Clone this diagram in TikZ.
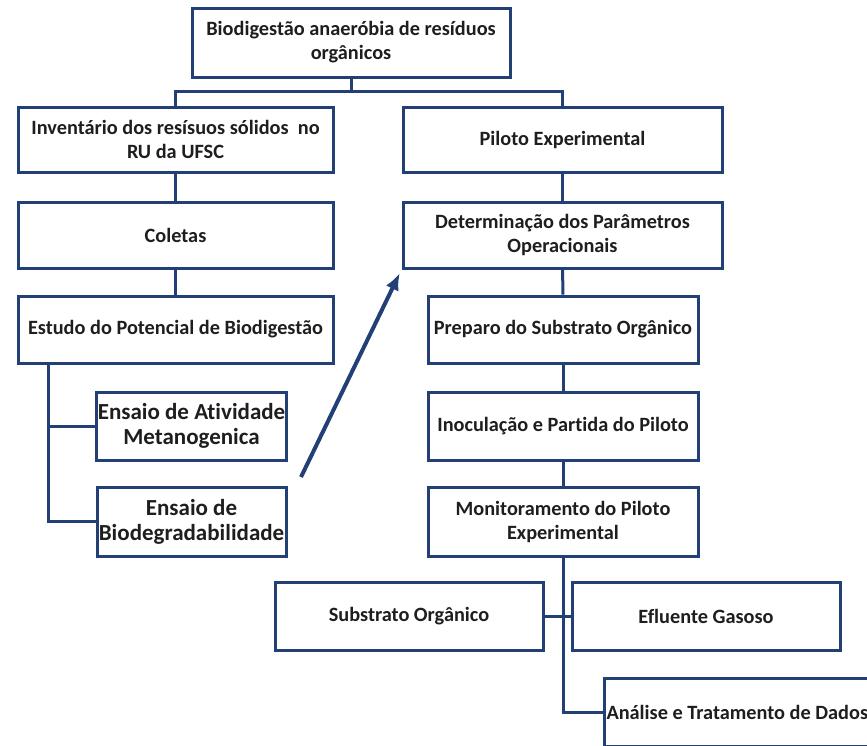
\documentclass[tikz,border=0pt]{standalone}
\usepackage{fontspec}
\setmainfont[Ligatures=NoCommon]{Carlito}
\usetikzlibrary{arrows,arrows.meta,calc}
\definecolor{LineClr}{RGB}{34,64,118}
\definecolor{TextClr}{RGB}{30,30,30}

\begin{document}
\begin{tikzpicture}[x=1pt,y=-1pt,
  box/.style={draw=LineClr,line width=3pt,fill=white,align=center,
    inner sep=2pt,font=\fontsize{20.3}{24}\selectfont\bfseries,text=TextClr},
  bigbox/.style={box,inner sep=1pt,font=\fontsize{23}{25}\selectfont\bfseries},
  link/.style={draw=LineClr,line width=3pt}]
\useasboundingbox (0,0) rectangle (867,745);
\clip (0,0) rectangle (867,745);

% left column
\node[box,minimum width=318pt,minimum height=69pt] (top) at (351,42.5)
  {Biodigestão anaeróbia de resíduos\\orgânicos};
\node[box,minimum width=315pt,minimum height=65pt] (inv) at (175.5,139.5)
  {Inventário dos resísuos sólidos\ \ no\\RU da UFSC};
\node[box,minimum width=315pt,minimum height=66pt] (col) at (175.5,235) {Coletas};
\node[box,minimum width=315pt,minimum height=67pt] (est) at (175.5,329.5)
  {Estudo do Potencial de Biodigestão};
\node[bigbox,minimum width=189pt,minimum height=68pt] (ati) at (191.5,426)
  {Ensaio de Atividade\\Metanogenica};
\node[bigbox,minimum width=189pt,minimum height=69pt] (bio) at (191.5,521.5)
  {Ensaio de\\Biodegradabilidade};

% right column
\node[box,minimum width=319pt,minimum height=65pt] (pil) at (562.5,139.5) {Piloto Experimental};
\node[box,minimum width=319pt,minimum height=66pt] (det) at (562.5,235)
  {Determinação dos Parâmetros\\Operacionais};
\node[box,minimum width=270pt,minimum height=67pt] (pre) at (563,329.5)
  {Preparo do Substrato Orgânico};
\node[box,minimum width=270pt,minimum height=68pt] (ino) at (563,426)
  {Inoculação e Partida do Piloto};
\node[box,minimum width=270pt,minimum height=69pt] (mon) at (563,521.5)
  {Monitoramento do Piloto\\Experimental};
\node[box,minimum width=268pt,minimum height=68pt] (sub) at (409,616) {Substrato Orgânico};
\node[box,minimum width=268pt,minimum height=68pt] (efl) at (706,616) {Efluente Gasoso};
\node[box,align=flush left,text width=310pt,minimum height=68pt,anchor=west] (ana) at (603,712)
  {Análise e Tratamento de Dados};

\coordinate (tail) at (301,477);

% connectors
\draw[link] (top.south) -- ++(0,13) -| (inv.north);
\draw[link] (top.south) -- ++(0,13) -| (pil.north);
\draw[link] (inv) -- (col);
\draw[link] (col) -- (est);
\draw[link] (est.south west) ++(32,0) |- (ati.west);
\draw[link] (est.south west) ++(32,0) |- (bio.west);
\draw[link] (pil) -- (det);
\draw[link] (det) -- (pre);
\draw[link] (pre) -- (ino);
\draw[link] (ino) -- (mon);
\draw[link] (mon.south) |- (ana.west);
\draw[link] (sub) -- (efl);

\draw[link,line width=4pt,-{Latex[length=17pt,width=14pt]},shorten >=4pt] (tail) -- (det.south west);

\end{tikzpicture}
\end{document}
